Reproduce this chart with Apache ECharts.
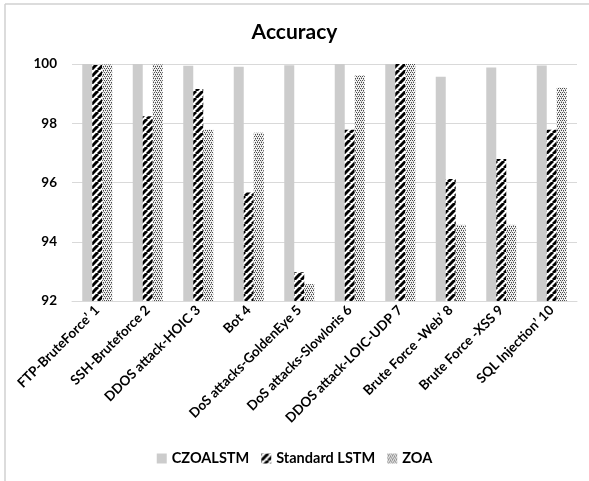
<!DOCTYPE html>
<html>
<head>
<meta charset="utf-8">
<script src="https://cdn.jsdelivr.net/npm/echarts@6/dist/echarts.min.js"></script>
<style>
  html, body { margin: 0; padding: 0; background: #ffffff; }
  #chart { width: 589px; height: 481px; }
</style>
</head>
<body>
<div id="chart"></div>
<script>
// Attack categories along the x axis
const categories = [
  "FTP-BruteForce\u2019 1",
  "SSH-Bruteforce 2",
  "DDOS attack-HOIC 3",
  "Bot 4",
  "DoS attacks-GoldenEye 5",
  "DoS attacks-Slowloris 6",
  "DDOS attack-LOIC-UDP 7",
  "Brute Force -Web\u2019 8",
  "Brute Force -XSS 9",
  "SQL Injection\u2019 10"
];

// Accuracy (%) per model
const czoalstm     = [100, 100, 99.94, 99.91, 99.96, 100, 100, 99.57, 99.88, 99.95];
const standardLstm = [99.97, 98.24, 99.16, 95.66, 92.97, 97.78, 100, 96.12, 96.79, 97.78];
const zoa          = [99.98, 99.98, 97.78, 97.68, 92.57, 99.62, 100, 94.57, 94.57, 99.2];

const yTicks = { min: 92, max: 100, interval: 2 };

// Fill patterns
function stripePattern() {
  const s = 7;
  const c = document.createElement('canvas');
  c.width = s; c.height = s;
  const g = c.getContext('2d');
  g.fillStyle = '#ffffff';
  g.fillRect(0, 0, s, s);
  g.strokeStyle = '#000000';
  g.lineWidth = 3;
  for (let k = -1; k <= 1; k++) {
    g.beginPath();
    g.moveTo(k * s, s);
    g.lineTo(k * s + s, 0);
    g.stroke();
  }
  return c;
}

function dotPattern() {
  const s = 4;
  const c = document.createElement('canvas');
  c.width = s; c.height = s;
  const g = c.getContext('2d');
  g.fillStyle = '#f2f2f2';
  g.fillRect(0, 0, s, s);
  g.fillStyle = '#4a4a4a';
  g.fillRect(0, 0, 1, 1);
  g.fillRect(2, 0, 1, 1);
  g.fillRect(1, 2, 1, 1);
  g.fillRect(3, 2, 1, 1);
  g.fillStyle = '#a0a0a0';
  g.fillRect(1, 1, 1, 1);
  g.fillRect(3, 3, 1, 1);
  return c;
}

const stripeFill = { image: stripePattern(), repeat: 'repeat' };
const dotFill = { image: dotPattern(), repeat: 'repeat' };

const FONT = 'Lato, "Open Sans", sans-serif';

const chart = echarts.init(document.getElementById('chart'), null, { renderer: 'canvas' });

chart.setOption({
  animation: false,
  backgroundColor: '#ffffff',
  title: {
    text: 'Accuracy',
    left: 'center',
    top: 17,
    textStyle: { fontFamily: FONT, fontWeight: 'bold', fontSize: 21, color: '#000000' }
  },
  graphic: [
    { type: 'line', shape: { x1: 5, y1: 4, x2: 589, y2: 4 }, style: { stroke: '#d0d0d0', lineWidth: 1.5 } },
    { type: 'line', shape: { x1: 5, y1: 4, x2: 5, y2: 481 }, style: { stroke: '#d0d0d0', lineWidth: 1.5 } }
  ],
  legend: {
    bottom: 10,
    left: 'center',
    itemWidth: 10,
    itemHeight: 10,
    itemGap: 12,
    icon: 'rect',
    textStyle: { fontFamily: FONT, fontWeight: 'bold', fontSize: 14.5, color: '#000000' },
    data: ['CZOALSTM', 'Standard LSTM', 'ZOA']
  },
  grid: { left: 72, right: 12, top: 64, bottom: 180, containLabel: false },
  xAxis: {
    type: 'category',
    data: categories,
    axisLine: { lineStyle: { color: '#d9d9d9', width: 1 } },
    axisTick: { show: false },
    axisLabel: {
      rotate: 45,
      interval: 0,
      margin: 7,
      fontFamily: FONT,
      fontWeight: 'bold',
      fontSize: 13.5,
      color: '#000000'
    }
  },
  yAxis: {
    type: 'value',
    min: yTicks.min,
    max: yTicks.max,
    interval: yTicks.interval,
    axisLine: { show: false },
    axisTick: { show: false },
    splitLine: { lineStyle: { color: '#d9d9d9', width: 1 } },
    axisLabel: {
      margin: 15,
      fontFamily: FONT,
      fontWeight: 'bold',
      fontSize: 13.5,
      color: '#000000'
    }
  },
  series: [
    { name: 'CZOALSTM', type: 'bar', data: czoalstm, barWidth: 10, barGap: '0%', itemStyle: { color: '#cccccc' } },
    { name: 'Standard LSTM', type: 'bar', data: standardLstm, barWidth: 10, barGap: '0%', itemStyle: { color: stripeFill } },
    { name: 'ZOA', type: 'bar', data: zoa, barWidth: 10, barGap: '0%', itemStyle: { color: dotFill } }
  ]
});
</script>
</body>
</html>
